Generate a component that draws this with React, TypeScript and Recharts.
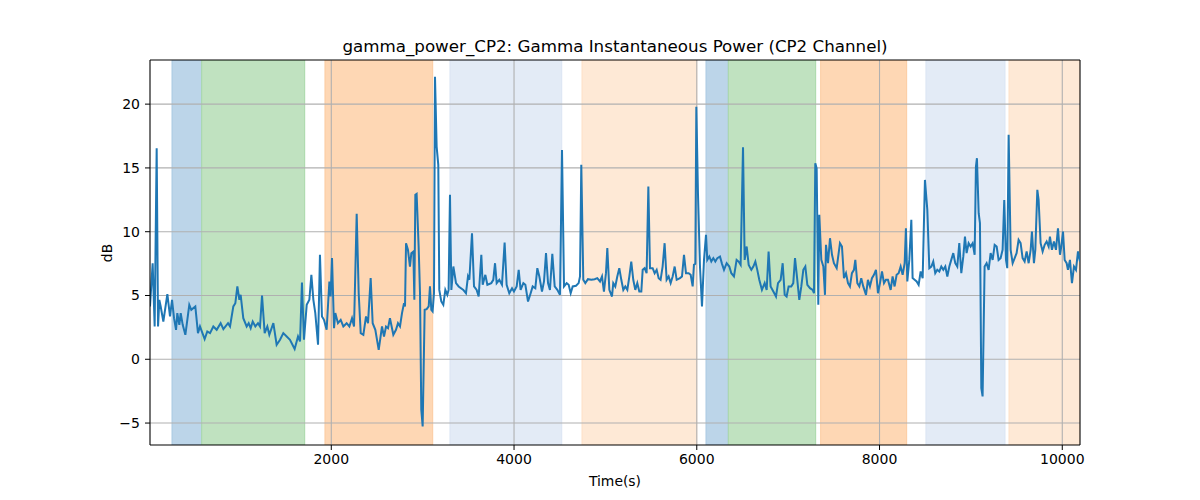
import React from 'react';
import { LineChart, Line, XAxis, YAxis, ReferenceArea, ReferenceLine } from 'recharts';

const seg1Times = [16, 45, 67, 89, 104, 118, 133, 162, 206, 235, 257, 279, 301, 315, 337, 352, 374, 403, 446, 468, 512, 541, 563, 614, 643, 673, 709, 746, 789, 819, 870, 892, 928, 950, 972, 994, 1008, 1037, 1074, 1096, 1118, 1140, 1169, 1198, 1220, 1242, 1271, 1300, 1322, 1366, 1402, 1439, 1475, 1512, 1548, 1599, 1636, 1658, 1679, 1701, 1731, 1760, 1782, 1804, 1825, 1855, 1876, 1898, 1920, 1949, 1979, 1993, 2008, 2030, 2044, 2073, 2103, 2132, 2168, 2198, 2227, 2249, 2278, 2300, 2322, 2351, 2380, 2402, 2431, 2453, 2482, 2519];
const seg1Values = [4.14, 7.53, 2.57, 16.54, 2.57, 4.66, 4.14, 2.96, 5.10, 3.36, 4.66, 3.22, 2.31, 3.62, 2.70, 3.62, 2.70, 1.92, 4.27, 3.88, 4.14, 2.05, 2.57, 1.58, 2.18, 2.05, 2.57, 2.31, 2.83, 2.36, 2.83, 2.57, 4.14, 4.40, 5.71, 4.66, 5.05, 3.22, 2.57, 2.83, 2.44, 2.96, 2.57, 2.83, 2.57, 5.0, 2.05, 2.57, 1.92, 2.83, 1.14, 1.53, 2.05, 1.79, 1.53, 0.80, 1.79, 1.40, 6.02, 1.53, 4.27, 4.66, 6.62, 4.66, 3.62, 1.14, 8.19, 3.36, 3.09, 2.31, 6.10, 4.92, 7.93, 2.44, 3.62, 2.83, 3.09, 2.57, 2.83, 2.57, 3.22, 2.57, 11.40, 5.18, 2.05, 1.92, 3.36, 2.83, 6.36, 2.83, 2.31, 0.74];

const seg2Times = [2555, 2577, 2599, 2621, 2642, 2679, 2708, 2730, 2752, 2774, 2796, 2807, 2818, 2839, 2861, 2876, 2898, 2909, 2920, 2934, 2956, 2971, 2985, 3000, 3022, 3044, 3066, 3080, 3095, 3109, 3124, 3135, 3153, 3171, 3182, 3204, 3226, 3248, 3270, 3284, 3299, 3314, 3336, 3365, 3394, 3445, 3474, 3496, 3511, 3540, 3562, 3591, 3613, 3642, 3657, 3686, 3708, 3751, 3773, 3792, 3810, 3839, 3868, 3897, 3919, 3948, 3978, 3999, 4029, 4051, 4072, 4102, 4124, 4153, 4182, 4204, 4233, 4255, 4277, 4306, 4328, 4350, 4372, 4393, 4419, 4445, 4474, 4503, 4525, 4547, 4576, 4598, 4620, 4642, 4678, 4707, 4722, 4736, 4758, 4780, 4809, 4846, 4882, 4911, 4941, 4963, 4984, 5006, 5021, 5043];
const seg2Values = [2.57, 1.79, 2.57, 2.44, 3.22, 1.92, 2.31, 2.83, 2.57, 3.62, 4.40, 4.14, 9.10, 8.58, 7.27, 8.32, 8.45, 4.66, 12.89, 12.96, 8.84, 5.18, -3.95, -5.26, 3.88, 3.93, 4.14, 5.71, 3.88, 3.75, 5.18, 22.15, 16.67, 15.24, 5.44, 4.53, 4.27, 5.44, 5.05, 5.44, 12.89, 5.44, 7.27, 5.97, 5.71, 5.44, 5.18, 6.49, 6.23, 9.88, 5.71, 5.44, 4.92, 8.19, 5.84, 6.62, 5.84, 5.97, 6.23, 7.53, 5.97, 6.23, 5.84, 9.15, 5.84, 5.18, 5.57, 5.31, 5.71, 7.01, 5.44, 5.97, 5.84, 4.53, 5.18, 5.71, 5.57, 7.14, 6.49, 5.31, 6.10, 8.32, 5.97, 5.44, 8.26, 5.71, 5.44, 5.05, 16.41, 5.71, 5.97, 5.84, 5.18, 5.71, 5.76, 5.97, 6.49, 15.24, 6.23, 5.97, 6.28, 6.23, 6.28, 6.36, 6.10, 6.49, 5.31, 6.75, 8.71, 5.44];

const seg3Times = [5072, 5086, 5108, 5130, 5152, 5174, 5196, 5218, 5240, 5262, 5283, 5305, 5327, 5349, 5371, 5393, 5408, 5429, 5451, 5470, 5488, 5517, 5539, 5561, 5583, 5604, 5626, 5648, 5670, 5692, 5714, 5736, 5758, 5780, 5816, 5838, 5860, 5882, 5911, 5933, 5955, 5969, 5984, 5995, 6013, 6035, 6057, 6079, 6101, 6115, 6137, 6159, 6181, 6203, 6225, 6254, 6276, 6298, 6327, 6356, 6378, 6407, 6436, 6458, 6480, 6506, 6524, 6546, 6568, 6597, 6619, 6641, 6662, 6684, 6713, 6743, 6765, 6786, 6808, 6838, 6867, 6889, 6918, 6940, 6962, 6983, 7005, 7034, 7056, 7075, 7100, 7122, 7144, 7166, 7188, 7210, 7239, 7268, 7283, 7297, 7312, 7330, 7341, 7363, 7385, 7403, 7414, 7436, 7458, 7480, 7501, 7531, 7567];
const seg3Values = [4.92, 5.97, 5.71, 6.49, 7.14, 6.23, 5.44, 5.71, 5.44, 6.49, 7.66, 6.23, 5.44, 5.97, 5.31, 5.31, 7.01, 7.14, 6.75, 13.54, 7.14, 7.14, 6.75, 7.01, 6.36, 6.23, 7.27, 9.10, 6.23, 6.49, 5.97, 6.49, 7.27, 6.23, 6.36, 6.49, 8.19, 6.75, 6.75, 6.62, 5.71, 7.40, 7.48, 19.80, 13.02, 7.27, 4.14, 7.79, 9.75, 7.79, 8.06, 7.66, 7.93, 7.66, 7.93, 8.06, 7.48, 7.01, 7.53, 7.27, 6.75, 6.49, 7.79, 7.66, 7.40, 16.62, 7.79, 8.84, 7.40, 7.01, 7.27, 7.66, 7.01, 6.23, 5.44, 5.97, 5.44, 8.45, 5.71, 5.31, 4.92, 5.97, 6.23, 7.53, 5.05, 4.92, 5.71, 5.71, 5.97, 7.93, 6.23, 4.66, 5.71, 7.01, 7.27, 5.84, 5.57, 5.44, 5.18, 15.37, 14.97, 4.27, 11.32, 7.79, 7.27, 5.05, 8.97, 7.53, 9.49, 8.19, 7.53, 7.14, 9.10];

const seg4Times = [7589, 7611, 7633, 7655, 7676, 7698, 7720, 7735, 7757, 7779, 7800, 7822, 7852, 7873, 7895, 7917, 7939, 7961, 7983, 8005, 8027, 8049, 8070, 8092, 8122, 8143, 8165, 8187, 8209, 8231, 8253, 8275, 8289, 8304, 8326, 8348, 8362, 8384, 8406, 8428, 8450, 8472, 8497, 8523, 8545, 8567, 8588, 8610, 8632, 8654, 8676, 8698, 8720, 8742, 8764, 8785, 8807, 8829, 8851, 8873, 8895, 8917, 8935, 8953, 8975, 8997, 9019, 9041, 9055, 9066, 9085, 9099, 9114, 9128, 9150, 9172, 9194, 9216, 9238, 9260, 9282, 9303, 9325, 9347, 9365, 9384, 9398, 9413, 9435, 9457, 9479, 9500, 9522, 9544, 9566, 9588, 9610, 9632, 9654, 9668, 9690, 9705, 9727, 9741, 9763, 9785, 9807, 9829, 9851, 9865, 9887, 9909, 9931, 9953, 9975, 9989, 10008, 10026, 10048, 10062, 10084, 10106, 10128, 10150, 10172, 10194];
const seg4Values = [8.84, 6.36, 6.75, 5.97, 5.71, 6.75, 7.01, 7.79, 5.97, 5.71, 6.36, 5.71, 5.05, 6.23, 5.71, 6.36, 6.62, 7.01, 5.18, 5.97, 6.88, 5.97, 6.23, 6.23, 5.44, 6.49, 5.71, 6.62, 6.75, 7.27, 6.62, 7.53, 10.27, 6.10, 7.79, 10.93, 6.36, 6.23, 6.10, 5.84, 6.88, 6.36, 14.06, 11.71, 7.14, 7.27, 7.66, 6.75, 7.01, 6.88, 7.27, 7.01, 7.27, 6.49, 7.27, 7.79, 8.32, 7.53, 7.27, 9.10, 6.75, 8.06, 9.62, 8.32, 9.10, 8.84, 9.10, 8.19, 15.10, 15.76, 11.45, 10.67, -2.26, -2.91, 7.27, 7.53, 7.01, 8.32, 7.79, 8.97, 8.84, 7.79, 7.93, 8.58, 12.49, 7.79, 7.14, 17.59, 8.58, 7.53, 7.93, 8.32, 9.36, 9.10, 7.93, 7.66, 8.45, 7.53, 8.58, 10.01, 7.53, 8.58, 13.28, 12.49, 9.10, 8.45, 8.97, 9.23, 8.84, 9.62, 8.58, 9.23, 8.58, 10.27, 8.19, 8.84, 10.01, 7.79, 7.53, 7.01, 7.79, 5.97, 7.27, 7.01, 8.45, 7.66];

const spanStarts = [257, 582, 1931, 3299, 4744, 6101, 6345, 7356, 8508, 9417];
const spanEnds = [582, 1709, 3110, 4522, 6000, 6345, 7301, 8297, 9373, 10194];
const spanKinds = ['blue', 'green', 'orange', 'lightblue', 'lightorange', 'blue', 'green', 'orange', 'lightblue', 'lightorange'];

const xTicks = [2000, 4000, 6000, 8000, 10000];
const yTicks = [-5, 0, 5, 10, 15, 20];
const xDomain = [16, 10194];
const yDomain = [-6.72, 23.46];

const spanFill: Record<string, string> = {
  blue: '#bcd5e9',
  green: '#c0e2c0',
  orange: '#fed7b4',
  lightblue: '#e3ebf6',
  lightorange: '#fee9d6',
};
const spanStroke: Record<string, string> = {
  blue: '#a9c9e3',
  green: '#a8d8a8',
  orange: '#fccba0',
  lightblue: '#dae4f3',
  lightorange: '#fde0c6',
};

const times = [...seg1Times, ...seg2Times, ...seg3Times, ...seg4Times];
const values = [...seg1Values, ...seg2Values, ...seg3Values, ...seg4Values];
const data = times.map((t, i) => ({ t, v: values[i] }));

const FONT = 'DejaVu Sans, sans-serif';
const fmt = (v: number) => String(v).replace('-', '\u2212');

export default function App() {
  return (
    <div style={{ position: 'absolute', left: 0, top: 0, width: 1200, height: 500, background: '#fff' }}>
      <LineChart
        width={1200}
        height={500}
        data={data}
        margin={{ top: 60, right: 120, bottom: 0, left: 0 }}
        style={{ fontFamily: FONT }}
      >
        {spanStarts.map((s, i) => (
          <ReferenceArea
            key={'a' + i}
            x1={s}
            x2={spanEnds[i]}
            fill={spanFill[spanKinds[i]]}
            fillOpacity={1}
            stroke={spanStroke[spanKinds[i]]}
            strokeWidth={1}
            ifOverflow="hidden"
          />
        ))}
        {xTicks.map((t) => (
          <ReferenceLine key={'gx' + t} x={t} stroke="#b0b0b0" strokeWidth={1.1} />
        ))}
        {yTicks.map((t) => (
          <ReferenceLine key={'gy' + t} y={t} stroke="#b0b0b0" strokeWidth={1.1} />
        ))}
        <ReferenceLine x={xDomain[1]} stroke="#000" strokeWidth={1.1} />
        <ReferenceLine y={yDomain[1]} stroke="#000" strokeWidth={1.1} />
        <XAxis
          dataKey="t"
          type="number"
          domain={xDomain}
          ticks={xTicks}
          allowDataOverflow
          height={55}
          tickSize={5}
          tickMargin={4}
          stroke="#000"
          tick={{ fill: '#000', fontSize: 14, fontFamily: FONT }}
          tickLine={{ stroke: '#000' }}
          axisLine={{ stroke: '#000', strokeWidth: 1.1 }}
        />
        <YAxis
          type="number"
          domain={yDomain}
          ticks={yTicks}
          allowDataOverflow
          width={150}
          tickSize={5}
          tickMargin={5}
          tickFormatter={fmt}
          stroke="#000"
          tick={{ fill: '#000', fontSize: 14, fontFamily: FONT }}
          tickLine={{ stroke: '#000' }}
          axisLine={{ stroke: '#000', strokeWidth: 1.1 }}
        />
        <Line
          type="linear"
          dataKey="v"
          stroke="#1f77b4"
          strokeWidth={2}
          dot={false}
          activeDot={false}
          isAnimationActive={false}
        />
      </LineChart>
      <svg
        width={1200}
        height={500}
        style={{ position: 'absolute', left: 0, top: 0, pointerEvents: 'none', fontFamily: FONT }}
      >
        <text x={615} y={52} textAnchor="middle" fontSize={16.7} fill="#000">
          gamma_power_CP2: Gamma Instantaneous Power (CP2 Channel)
        </text>
        <text x={615} y={486} textAnchor="middle" fontSize={13.9} fill="#000">
          Time(s)
        </text>
        <text x={112} y={253} textAnchor="middle" fontSize={13.9} fill="#000" transform="rotate(-90, 112, 253)">
          dB
        </text>
      </svg>
    </div>
  );
}
